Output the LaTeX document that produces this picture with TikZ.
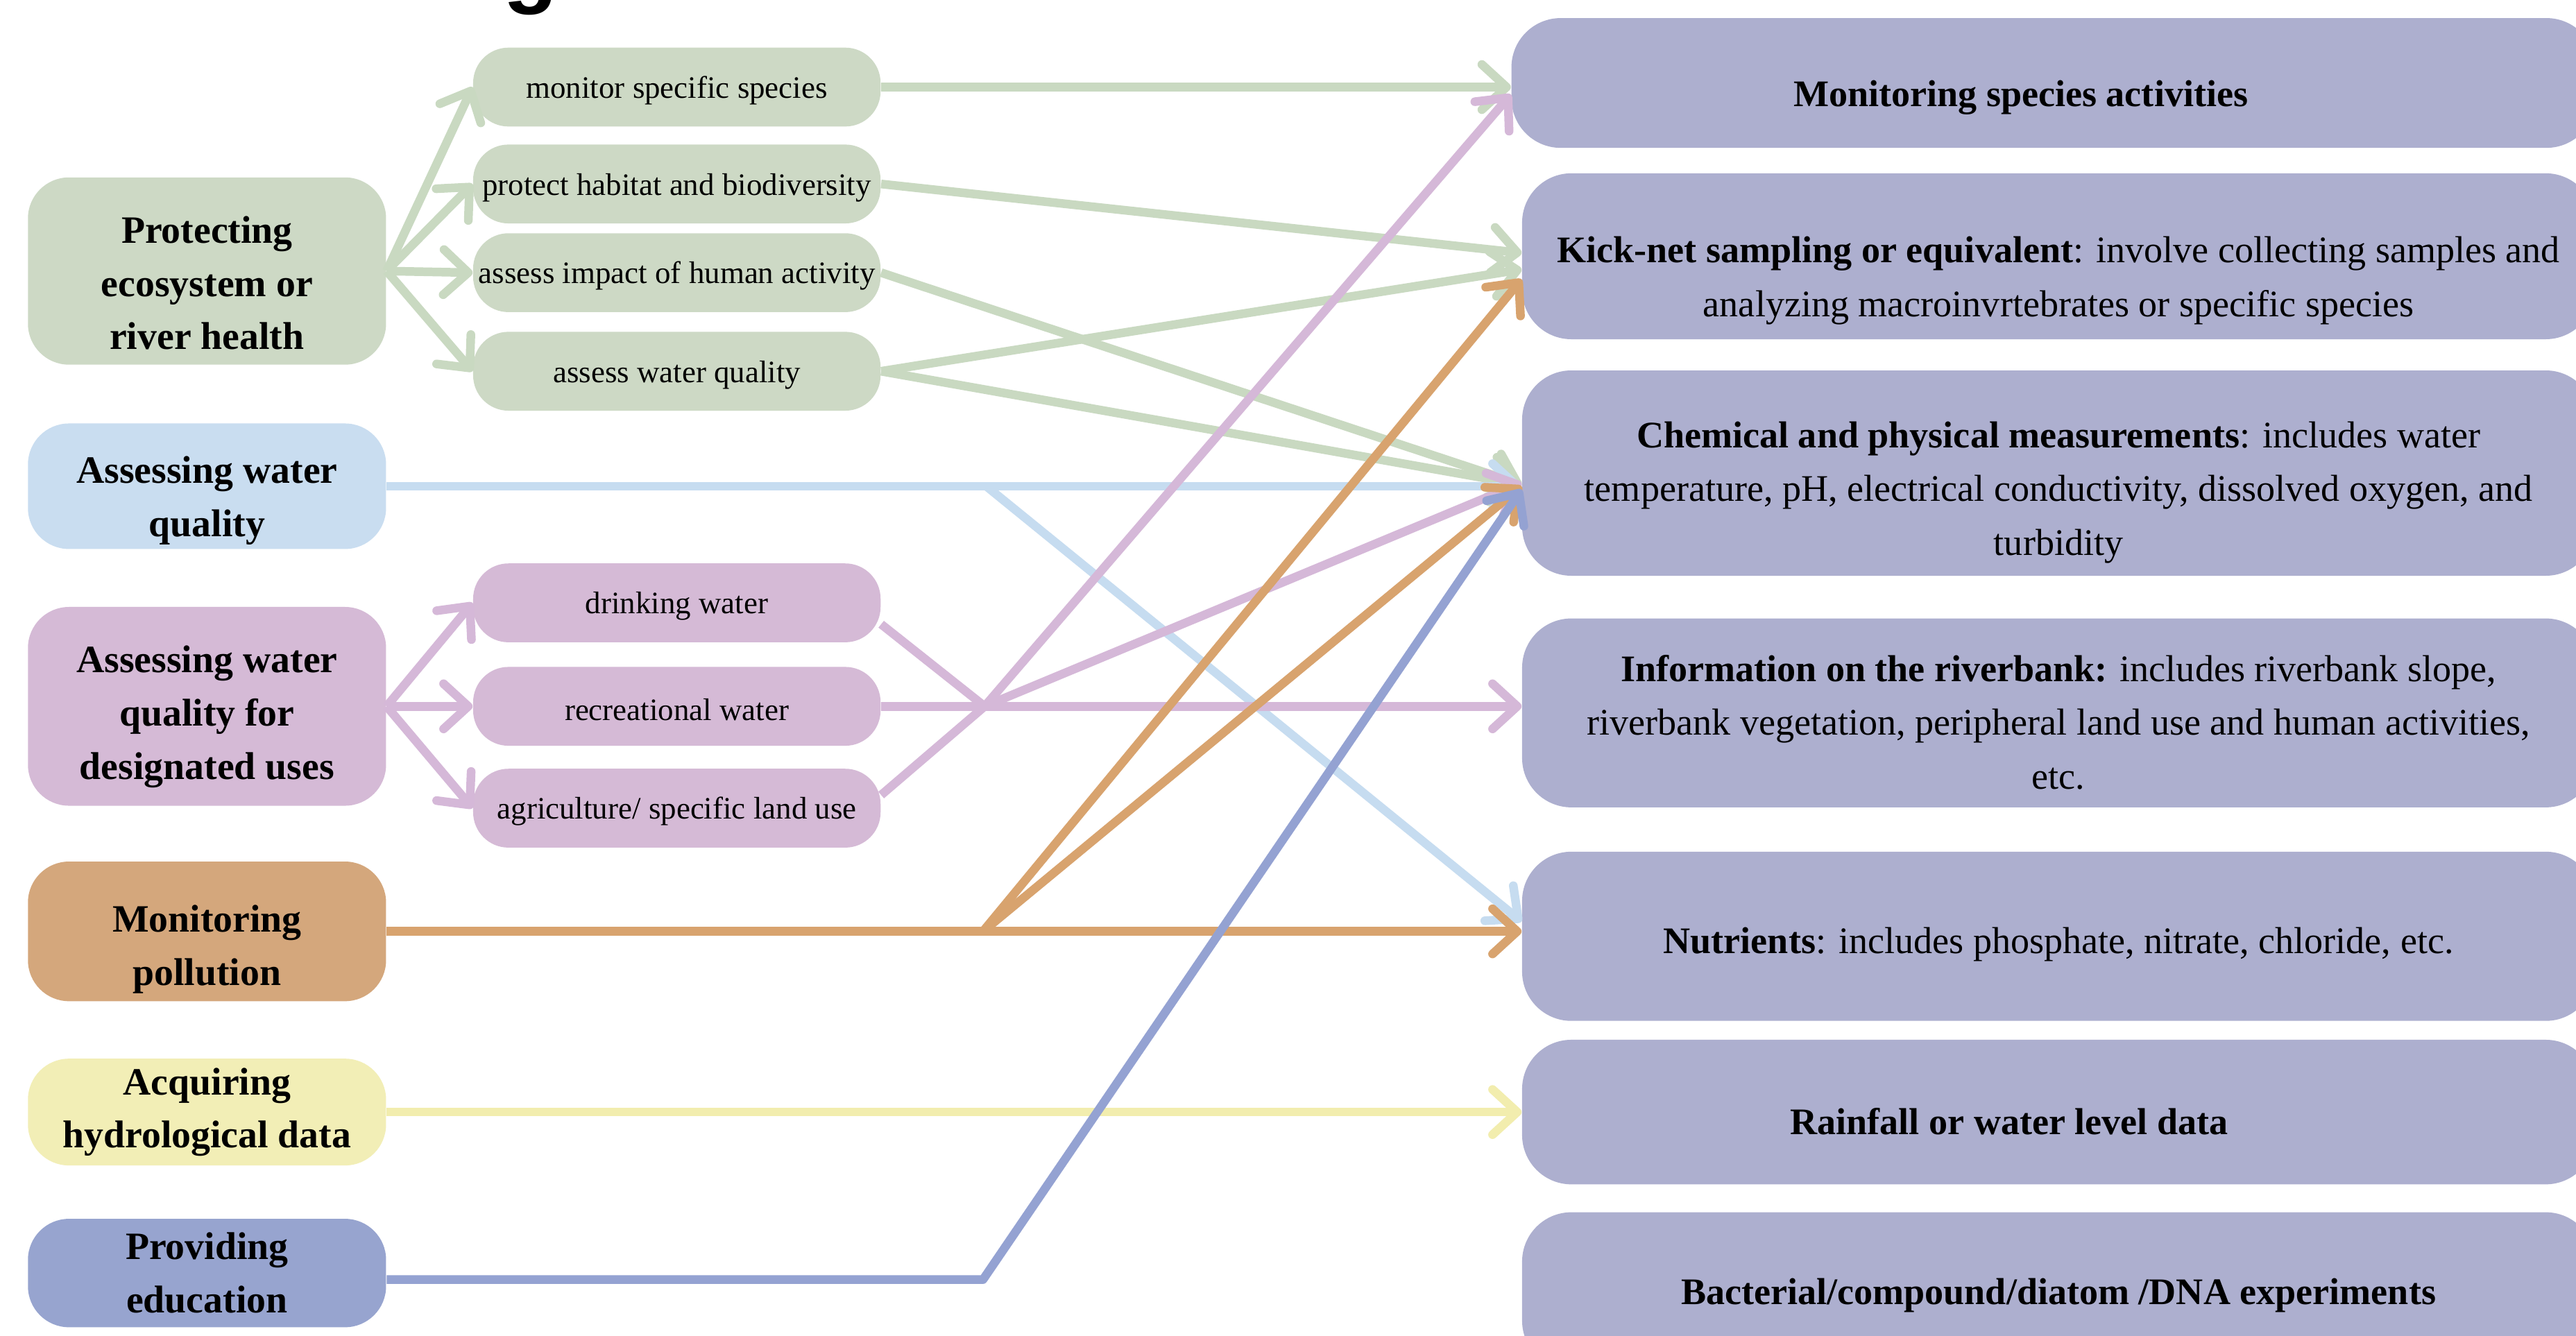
\documentclass[tikz,border=0pt]{standalone}
\usepackage{fontspec}
\setmainfont{Liberation Serif}
\newfontfamily\headfont{Liberation Sans}
\usepackage{xcolor}
\usetikzlibrary{arrows.meta,calc,positioning}

\definecolor{gfill}{HTML}{CDD9C5}
\definecolor{bfill}{HTML}{C9DDF0}
\definecolor{pfill}{HTML}{D5BAD6}
\definecolor{ofill}{HTML}{D4A77C}
\definecolor{yfill}{HTML}{F2EEB6}
\definecolor{efill}{HTML}{97A4CF}
\definecolor{rfill}{HTML}{ADAFCF}
\definecolor{gline}{HTML}{C9D9C1}
\definecolor{bline}{HTML}{C6DCF0}
\definecolor{pline}{HTML}{D5B8D8}
\definecolor{oline}{HTML}{D8A36E}
\definecolor{yline}{HTML}{F2EDAE}
\definecolor{eline}{HTML}{94A2D2}

% taller first line, pushes the text down in its box
\newcommand{\topgap}[1]{\rule{0pt}{#1}}

\begin{document}
\begin{tikzpicture}[x=0.2mm,y=-0.2mm,
    lbox/.style={rounded corners=5mm,minimum width=43.6mm,inner sep=0.5mm,align=center,
        font=\fontsize{13.4}{18.4}\selectfont\bfseries},
    mbox/.style={rounded corners=4.3mm,minimum width=49.6mm,minimum height=9.6mm,inner sep=0.5mm,
        align=center,font=\fontsize{10.8}{13}\selectfont},
    rbox/.style={rounded corners=6mm,fill=rfill,minimum width=130.6mm,inner sep=1mm,align=center,
        font=\fontsize{13}{18.6}\selectfont},
    seg/.style={line width=3pt,line join=round},
    link/.style={seg,-{Straight Barb[length=3mm,width=5.5mm,round]}}]
    \fill[white] (0,0) rectangle (1568,813);
    \useasboundingbox (0,0) rectangle (1568,813);
    % cut title
    \node[font=\headfont\bfseries\fontsize{31}{31}\selectfont,anchor=base,inner sep=0] (ttl) at (323,-2.2) {g};
    % aims
    \node[lbox,fill=gfill,minimum height=22.8mm] (pe) at (126,165) {\topgap{6.2mm}Protecting\\ ecosystem or\\ river health};
    \node[lbox,fill=bfill,minimum height=15.2mm] (wq) at (126,296) {\topgap{6.8mm}Assessing water\\ quality};
    \node[lbox,fill=pfill,minimum height=24.2mm] (du) at (126,430) {\topgap{5.8mm}Assessing water\\ quality for\\ designated uses};
    \node[lbox,fill=ofill,minimum height=17mm] (mp) at (126,567) {\topgap{7.6mm}Monitoring\\ pollution};
    \node[lbox,fill=yfill,minimum height=13mm] (hd) at (126,677) {Acquiring\\ hydrological data};
    \node[lbox,fill=efill,minimum height=13.2mm] (ed) at (126,775) {Providing\\ education};
    % sub aims
    \node[mbox,fill=gfill] (ms) at (412,53) {\topgap{3.5mm}monitor specific species};
    \node[mbox,fill=gfill] (ph) at (412,112) {\topgap{3.5mm}protect habitat and biodiversity};
    \node[mbox,fill=gfill] (ai) at (412,166) {\topgap{3.5mm}assess impact of human activity};
    \node[mbox,fill=gfill] (aw) at (412,226) {\topgap{3.5mm}assess water quality};
    \node[mbox,fill=pfill] (dw) at (412,367) {\topgap{3.5mm}drinking water};
    \node[mbox,fill=pfill] (rw) at (412,430) {\topgap{3.5mm}recreational water};
    \node[mbox,fill=pfill] (ag) at (412,492) {\topgap{3.5mm}agriculture/ specific land use};
    % methods
    \node[rbox,minimum width=132mm,minimum height=15.8mm] (ra) at (1250,50.5) {\topgap{6.7mm}\textbf{Monitoring species activities}\hspace*{8mm}};
    \node[rbox,minimum height=20.2mm] (rb) at (1253,156) {\topgap{9.1mm}\textbf{Kick-net sampling or equivalent}: involve collecting samples and\\ analyzing macroinvrtebrates or specific species};
    \node[rbox,minimum height=25mm] (rc) at (1253,288) {\topgap{7.9mm}\textbf{Chemical and physical measurements}: includes water\\ temperature, pH, electrical conductivity, dissolved oxygen, and\\ turbidity};
    \node[rbox,minimum height=23mm] (rd) at (1253,434) {\topgap{5.5mm}\textbf{Information on the riverbank:} includes riverbank slope,\\ riverbank vegetation, peripheral land use and human activities,\\ etc.};
    \node[rbox,minimum height=20.6mm] (re) at (1253,570) {\topgap{5.1mm}\textbf{Nutrients}: includes phosphate, nitrate, chloride, etc.};
    \node[rbox,minimum height=17.6mm] (rf) at (1253,677) {\topgap{5.5mm}\textbf{Rainfall or water level data}\hspace*{12mm}};
    \node[rbox,minimum height=19.2mm] (rg) at (1253,786) {\topgap{4.3mm}\textbf{Bacterial/compound/diatom /DNA experiments}};
    % green
    \draw[link,gline] (pe.east) -- (ms.west); \draw[link,gline] (pe.east) -- (ph.west);
    \draw[link,gline] (pe.east) -- (ai.west); \draw[link,gline] (pe.east) -- (aw.west);
    \draw[link,gline] (ms.east) -- (ms.east -| ra.west);
    \draw[link,gline] (ph.east) -- ($(rb.west)+(0,-2)$);
    \draw[link,gline] (ai.east) -- ($(rc.west)+(0,7)$);
    \draw[link,gline] (aw.east) -- ($(rb.west)+(0,8)$);
    \draw[link,gline] (aw.east) -- ($(rc.west)+(0,7)$);
    % light blue
    \coordinate (wqs) at ($(wq.east)+(365,0)$);
    \draw[link,bline] (wq.east) -- (wqs) -- ($(rc.west)+(0,8)$);
    \draw[link,bline] (wqs) -- ($(re.west)+(0,-9)$);
    % pink
    \draw[link,pline] (du.east) -- (dw.west); \draw[link,pline] (du.east) -- (rw.west);
    \draw[link,pline] (du.east) -- (ag.west);
    \coordinate (dus) at ($(rw.east)+(63,0)$);
    \draw[seg,pline] ($(dw.east)+(0,13)$) -- (dus); \draw[seg,pline] ($(ag.east)+(0,-8)$) -- (dus);
    \draw[link,pline] (rw.east) -- (dus) -- (rw.east -| rd.west);
    \draw[link,pline] (dus) -- ($(ra.west)+(0,7)$);
    \draw[link,pline] (dus) -- ($(rc.west)+(0,6)$);
    % brown
    \coordinate (mps) at ($(mp.east)+(363,0)$);
    \draw[link,oline] (mp.east) -- (mps) -- (mp.east -| re.west);
    \draw[link,oline] (mps) -- ($(rb.west)+(0,14)$);
    \draw[link,oline] (mps) -- ($(rc.west)+(0,8)$);
    % yellow
    \draw[link,yline] (hd.east) -- (hd.east -| rf.west);
    % education
    \coordinate (eds) at ($(ed.east)+(363,4)$);
    \draw[link,eline] ($(ed.east)+(0,4)$) -- (eds) -- ($(rc.west)+(0,10)$);
\end{tikzpicture}
\end{document}
